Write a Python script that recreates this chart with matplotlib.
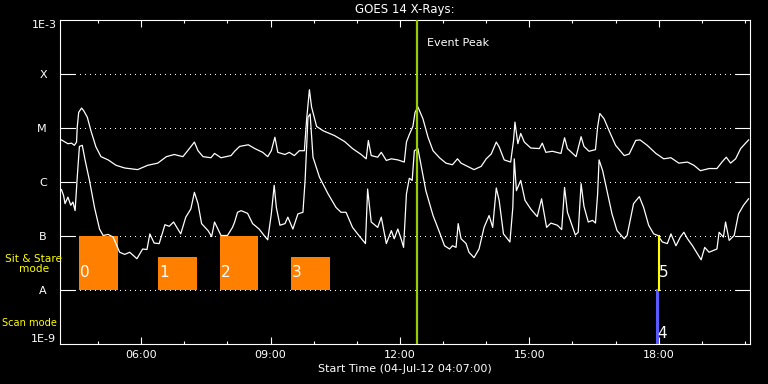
import matplotlib
matplotlib.use('Agg')
import matplotlib.pyplot as plt
import numpy as np

# start of plot: 04-Jul-12 04:07:00, 16 hours shown
start_hour = 4 + 7 / 60
span_hours = 16

# GOES 14 long channel (1-8 A): minutes after start, log10 flux (W/m^2)
long_min = [2, 7, 11, 16, 20, 23, 24, 26, 30, 33,
            38, 43, 50, 57, 67, 78, 90, 108, 122, 136,
            148, 159, 171, 180, 187, 192, 199, 210, 215, 224,
            238, 243, 250, 262, 271, 282, 289, 294, 299, 303,
            313, 319, 326, 333, 340, 343, 347, 350, 357, 366,
            382, 396, 407, 419, 426, 429, 433, 442, 447, 454,
            461, 470, 479, 482, 486, 491, 494, 498, 505, 512,
            519, 528, 537, 546, 553, 558, 567, 576, 586, 593,
            600, 607, 611, 618, 627, 631, 633, 637, 641, 646,
            655, 667, 671, 676, 685, 697, 702, 706, 718, 725,
            729, 736, 745, 748, 751, 757, 764, 773, 785, 792,
            801, 807, 817, 829, 840, 850, 861, 873, 882, 891,
            903, 914, 921, 927, 933, 940, 947, 958]
long_log = [-5.23, -5.27, -5.30, -5.29, -5.33, -5.27, -4.99, -4.72, -4.64, -4.69,
            -4.81, -5.06, -5.36, -5.54, -5.60, -5.70, -5.75, -5.78, -5.70, -5.66,
            -5.54, -5.50, -5.54, -5.39, -5.27, -5.43, -5.54, -5.56, -5.48, -5.56,
            -5.52, -5.44, -5.35, -5.32, -5.39, -5.46, -5.54, -5.43, -5.18, -5.46,
            -5.50, -5.46, -5.52, -5.43, -5.43, -4.87, -4.30, -4.62, -4.98, -5.06,
            -5.15, -5.26, -5.39, -5.50, -5.58, -5.24, -5.52, -5.55, -5.46, -5.61,
            -5.58, -5.60, -5.64, -5.27, -5.13, -4.98, -4.72, -4.62, -4.84, -5.18,
            -5.43, -5.56, -5.66, -5.69, -5.58, -5.66, -5.72, -5.78, -5.72, -5.58,
            -5.49, -5.27, -5.36, -5.60, -5.64, -5.24, -4.90, -5.30, -5.11, -5.27,
            -5.38, -5.39, -5.29, -5.46, -5.44, -5.48, -5.19, -5.39, -5.54, -5.17,
            -5.35, -5.44, -5.41, -4.99, -4.74, -4.84, -5.06, -5.33, -5.52, -5.49,
            -5.24, -5.23, -5.33, -5.48, -5.58, -5.56, -5.66, -5.64, -5.70, -5.80,
            -5.76, -5.76, -5.64, -5.55, -5.66, -5.58, -5.39, -5.23]

# GOES 14 short channel (0.5-4 A)
short_min = [2, 5, 7, 11, 15, 18, 21, 24, 27, 31,
             35, 41, 48, 55, 60, 67, 74, 83, 90, 97,
             107, 115, 121, 125, 131, 138, 146, 152, 158, 168,
             175, 182, 187, 192, 197, 206, 211, 215, 224, 233,
             240, 243, 247, 252, 261, 268, 277, 284, 289, 294,
             298, 301, 306, 313, 317, 324, 331, 338, 341, 345,
             348, 352, 361, 373, 384, 391, 398, 407, 417, 425,
             428, 433, 442, 447, 454, 461, 465, 470, 475, 478,
             482, 486, 490, 493, 498, 502, 509, 519, 528, 535,
             542, 546, 551, 554, 558, 565, 569, 576, 583, 590,
             597, 602, 607, 611, 617, 626, 630, 632, 635, 641,
             647, 655, 664, 670, 677, 683, 692, 698, 702, 706,
             717, 721, 725, 729, 735, 741, 745, 748, 750, 755,
             762, 768, 775, 785, 789, 798, 806, 812, 819, 826,
             832, 838, 845, 850, 857, 863, 868, 873, 880, 887,
             892, 897, 903, 914, 917, 923, 926, 931, 938, 944,
             951, 958]
short_log = [-6.15, -6.26, -6.41, -6.29, -6.44, -6.38, -6.54, -5.92, -5.35, -5.33,
             -5.61, -5.98, -6.48, -6.88, -7.00, -6.98, -7.03, -7.31, -7.35, -7.31,
             -7.43, -7.25, -7.26, -6.97, -7.14, -7.15, -6.80, -6.83, -6.75, -6.97,
             -6.66, -6.51, -6.20, -6.41, -6.78, -6.91, -7.02, -6.75, -7.00, -7.00,
             -6.85, -6.75, -6.57, -6.54, -6.59, -6.78, -6.88, -7.00, -7.08, -6.60,
             -6.07, -6.48, -6.81, -6.78, -6.66, -6.88, -6.60, -6.57, -5.98, -4.81,
             -4.75, -5.55, -5.92, -6.23, -6.48, -6.57, -6.57, -6.85, -7.02, -7.15,
             -6.14, -6.75, -6.85, -6.66, -7.15, -6.91, -7.06, -6.88, -7.08, -7.22,
             -6.23, -5.94, -5.98, -5.43, -5.39, -5.67, -6.17, -6.63, -6.94, -7.19,
             -7.25, -7.19, -7.22, -6.78, -7.06, -7.15, -7.31, -7.41, -7.25, -6.85,
             -6.63, -6.85, -6.12, -6.35, -6.97, -7.12, -6.48, -5.58, -6.17, -5.98,
             -6.35, -6.51, -6.65, -6.32, -6.85, -6.77, -6.81, -6.89, -6.11, -6.57,
             -6.99, -6.94, -6.04, -6.46, -6.75, -6.72, -6.77, -6.23, -5.60, -5.80,
             -6.23, -6.60, -6.91, -7.06, -7.00, -6.41, -6.28, -6.48, -6.81, -6.97,
             -7.00, -7.12, -7.15, -6.97, -7.19, -7.03, -6.94, -7.06, -7.19, -7.34,
             -7.45, -7.22, -7.31, -7.25, -6.94, -7.03, -6.75, -7.09, -7.00, -6.60,
             -6.44, -6.32]

# sit & stare observations (minutes after start)
mode_labels = ['0', '1', '2', '3']
mode_start = [26, 137, 222, 321]
mode_end = [80, 191, 276, 375]
mode_top = [1e-7, 4e-8, 1e-7, 4e-8]

# single raster lines near 18:00
scan_label, scan_min = '4', 831
stare_label, stare_min = '5', 833
peak_min = 496

goes_levels = [1e-4, 1e-5, 1e-6, 1e-7, 1e-8]
goes_names = ['X', 'M', 'C', 'B', 'A']
hour_ticks = [6, 9, 12, 15, 18]

def hrs(m):
    return start_hour + np.asarray(m, dtype=float) / 60

fig = plt.figure(figsize=(7.68, 3.84), dpi=100, facecolor='black')
ax = fig.add_axes([60 / 768, 40.5 / 384, 690 / 768, 324 / 384])
ax.set_facecolor('black')
ax.set_yscale('log')
ax.set_ylim(1e-9, 1e-3)
ax.set_xlim(start_hour, start_hour + span_hours)

# dotted level lines (crisp dots like the IDL plot)
for lv in goes_levels:
    ax.axhline(lv, color='white', lw=0.72, ls=(0, (1, 5)), zorder=0.5,
               antialiased=False)

# orange sit & stare boxes
for lab, s, e, top in zip(mode_labels, mode_start, mode_end, mode_top):
    x0, x1 = hrs([s, e])
    ax.fill_between([x0, x1], 1e-8, top, color='#ff8000', lw=0, zorder=1)
    ax.text(x0 + 0.02, 10 ** -7.68, lab, color='white', fontsize=11,
            ha='left', va='center', zorder=5)

# GOES curves
ax.plot(hrs(long_min), 10 ** np.array(long_log), color='white', lw=0.9, zorder=3)
ax.plot(hrs(short_min), 10 ** np.array(short_log), color='white', lw=0.9, zorder=3)

# event peak
ax.axvline(hrs(peak_min), color='#99cc00', lw=1.6, zorder=4)
ax.annotate('Event Peak', xy=(hrs(peak_min), 10 ** -3.435), xytext=(7.5, 0),
            textcoords='offset points', color='white', fontsize=8,
            ha='left', va='center')

# scan / stare lines
ax.plot([hrs(scan_min)] * 2, [1e-9, 1e-8], color='#5a5aff', lw=2.2, zorder=4)
ax.plot([hrs(stare_min)] * 2, [1e-8, 1e-7], color='#ffff00', lw=1.5, zorder=4)
ax.text(hrs(stare_min), 10 ** -7.68, stare_label, color='white', fontsize=11,
        ha='left', va='center', zorder=5)
ax.text(hrs(scan_min) - 0.01, 10 ** -8.81, scan_label, color='white', fontsize=11,
        ha='left', va='center', zorder=5)

# axes styling
for sp in ax.spines.values():
    sp.set_color('white')
    sp.set_linewidth(0.8)

ax.set_yticks(goes_levels)
ax.set_yticklabels(goes_names)
ax.yaxis.set_minor_locator(matplotlib.ticker.NullLocator())
ax.tick_params(axis='y', which='major', direction='in', length=10.8, width=0.8,
               left=True, right=True, colors='white', labelsize=8, pad=9.5)

ax.set_xticks(hour_ticks)
ax.set_xticklabels(['%02d:00' % h for h in hour_ticks])
ax.set_xticks(range(5, 21), minor=True)
ax.tick_params(axis='x', which='major', direction='in', length=4.7, width=0.8,
               top=True, bottom=True, colors='white', labelsize=8, pad=5)
ax.tick_params(axis='x', which='minor', direction='in', length=2.5, width=0.8,
               top=True, bottom=True, colors='white')

# axis end labels
ax.annotate('1E-3', xy=(0, 1e-3), xycoords=('axes fraction', 'data'),
            xytext=(-2.2, 0), textcoords='offset points', color='white',
            fontsize=8, ha='right', va='top')
ax.annotate('1E-9', xy=(0, 1e-9), xycoords=('axes fraction', 'data'),
            xytext=(-3, 0), textcoords='offset points', color='white',
            fontsize=8, ha='right', va='bottom')

# mode labels left of the axis
ax.annotate('Sit & Stare\nmode', xy=(0, 10 ** -7.53), xycoords=('axes fraction', 'data'),
            xytext=(-19, 0), textcoords='offset points', color='yellow',
            fontsize=7.6, ha='center', va='center', multialignment='center',
            linespacing=1.0, annotation_clip=False)
ax.annotate('Scan mode', xy=(0, 10 ** -8.62), xycoords=('axes fraction', 'data'),
            xytext=(-22.3, 0), textcoords='offset points', color='yellow',
            fontsize=7.1, ha='center', va='center', annotation_clip=False)

fig.text(405 / 768, 1 - 9 / 384, 'GOES 14 X-Rays:', color='white', fontsize=8.5,
         ha='center', va='center')
fig.text(405 / 768, 1 - 369 / 384, 'Start Time (04-Jul-12 04:07:00)', color='white',
         fontsize=8, ha='center', va='center')

fig.savefig('out.png', dpi=100, facecolor='black')
